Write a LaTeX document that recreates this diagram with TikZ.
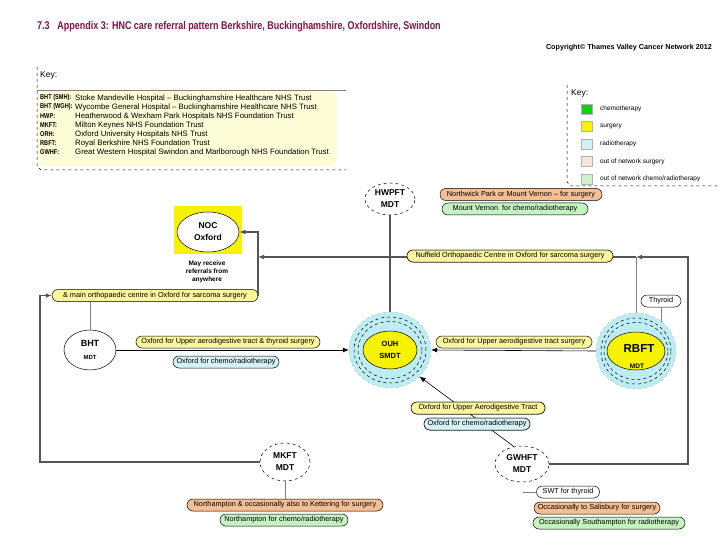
\documentclass[tikz,border=0pt]{standalone}
\usepackage{fontspec}
\setmainfont{Liberation Sans}
\newfontfamily\narrow[FakeStretch=0.8]{Liberation Sans}
\usetikzlibrary{arrows.meta,shapes.geometric}
\definecolor{titlec}{HTML}{7B1448}
\definecolor{keyfill}{HTML}{FCFCD6}
\definecolor{pyellow}{HTML}{FBF59C}
\definecolor{ppeach}{HTML}{F6BE94}
\definecolor{pgreen}{HTML}{C4F2C0}
\definecolor{pblue}{HTML}{D4F1F5}
\definecolor{ring}{HTML}{BDEDF3}
\definecolor{mdtyellow}{HTML}{F7F200}
\definecolor{swgreen}{HTML}{10D010}
\definecolor{swyellow}{HTML}{F8F400}
\definecolor{swblue}{HTML}{D3F0F6}
\definecolor{swpeach}{HTML}{F8E4DA}
\definecolor{swlgreen}{HTML}{CDF3CB}
\definecolor{linegrey}{HTML}{555555}
\begin{document}
\begin{tikzpicture}[x=1pt,y=-1pt,
  pill/.style={draw=black, line width=0.5pt, rounded corners=6pt, minimum height=12pt,
    inner sep=1pt, font=\fontsize{7.3}{8}\selectfont, text height=5pt, text depth=1.4pt},
  thickln/.style={draw=linegrey, line width=1.8pt},
  thinln/.style={draw=black, line width=0.6pt},
  greyln/.style={draw=gray, line width=0.7pt},
  tip/.style={-{Latex[length=6pt,width=5pt]}},
  mdtlbl/.style={font=\bfseries\fontsize{8.5}{12}\selectfont, align=center, inner sep=0pt},
  mdtell/.style={ellipse, draw, fill=white, line width=0.5pt},
  keylab/.style={anchor=west, inner sep=0pt, font=\narrow\bfseries\fontsize{7}{8}\selectfont},
  keytxt/.style={anchor=west, inner sep=0pt, font=\fontsize{7.8}{8}\selectfont},
  swlab/.style={anchor=west, inner sep=0pt, font=\fontsize{6.5}{7}\selectfont},
  swatch/.style={draw=gray!60, line width=0.3pt, minimum width=11pt, minimum height=10pt, inner sep=0pt},
]
\useasboundingbox (0,0) rectangle (720,540);
\fill[white] (0,0) rectangle (720,540);

% title
\node[anchor=west, inner sep=0pt, text=titlec, font=\narrow\bfseries\fontsize{11.2}{13}\selectfont] (title) at (37,27)
  {7.3\hspace{0.7em}Appendix 3: HNC care referral pattern Berkshire, Buckinghamshire, Oxfordshire, Swindon};
\node[anchor=east, inner sep=0pt, font=\bfseries\fontsize{7.2}{8}\selectfont] (copy) at (712,48)
  {Copyright\textcopyright{} Thames Valley Cancer Network 2012};

% key left
\fill[keyfill, rounded corners=8pt] (38,91) rectangle (337,166);
\draw[gray, line width=0.6pt] (37,90) -- (346,90);
\draw[dashed, line width=0.5pt] (37,67) -- (37,166) -- (41,170) -- (346,170);
\node[anchor=west, inner sep=0pt, font=\fontsize{8.5}{9}\selectfont] (key1) at (40,75) {Key:};
\foreach \lab/\txt [count=\i from 0] in {
  {BHT (SMH):}/{Stoke Mandeville Hospital -- Buckinghamshire Healthcare NHS Trust},
  {BHT (WGH):}/{Wycombe General Hospital -- Buckinghamshire Healthcare NHS Trust},
  {HWP:}/{Heatherwood \& Wexham Park Hospitals NHS Foundation Trust},
  {MKFT:}/{Milton Keynes NHS Foundation Trust},
  {ORH:}/{Oxford University Hospitals NHS Trust},
  {RBFT:}/{Royal Berkshire NHS Foundation Trust},
  {GWHF:}/{Great Western Hospital Swindon and Marlborough NHS Foundation Trust}} {
  \node[keylab] (kl\i) at (40,98+9*\i) {\lab};
  \node[keytxt] (kt\i) at (75,98+9*\i) {\txt};
}

% key right
\draw[dashed, line width=0.5pt] (567,85) -- (567,182) -- (571,186) -- (718,186);
\node[anchor=west, inner sep=0pt, font=\fontsize{8.5}{9}\selectfont] (key2) at (571,93) {Key:};
\foreach \col/\txt [count=\i from 0] in {swgreen/{chemotherapy}, swyellow/{surgery}, swblue/{radiotherapy},
  swpeach/{out of network surgery}, swlgreen/{out of network chemo/radiotherapy}} {
  \node[swatch, fill=\col] (sw\i) at (587,109+17.5*\i) {};
  \node[swlab] (swt\i) at (600,109+17.5*\i) {\txt};
}

% HWPFT
\node[mdtell, dashed, minimum width=50pt, minimum height=32pt, mdtlbl] (hw) at (390,199) {HWPFT\\MDT};
\node[pill, fill=ppeach, minimum width=162pt] (hwsurg) at (521,194.5) {Northwick Park or Mount Vernon -- for surgery};
\node[pill, fill=pgreen, minimum width=146pt] (hwchemo) at (515,209) {Mount Vernon\ \ for chemo/radiotherapy};

% NOC
\node[fill=mdtyellow, minimum width=68pt, minimum height=47pt, inner sep=0pt] (nocbox) at (208,230) {};
\node[mdtell, minimum width=62pt, minimum height=40pt, mdtlbl] (noc) at (208,232) {NOC\\Oxford};
\node[font=\bfseries\fontsize{6.5}{8}\selectfont, align=center, inner sep=0pt] (nocnote) at (207,272) {May receive\\referrals from\\anywhere};

% pills on lines (drawn first, redrawn later on top)
\node[pill, fill=pyellow, minimum width=206pt] (nuf) at (510,256) {Nuffield Orthopaedic Centre in Oxford for sarcoma surgery};
\node[pill, fill=pyellow, minimum width=206pt] (lp) at (155,295.5) {\& main orthopaedic centre in Oxford for sarcoma surgery};

% BHT
\node[mdtell, minimum width=52pt, minimum height=40pt, mdtlbl] (bht) at (90,350) {\fontsize{9}{10}\selectfont BHT\\[1pt]{\fontsize{6}{7}\selectfont MDT}};
\node[pill, fill=pyellow, minimum width=184pt] (bsurg) at (228,342) {Oxford for Upper aerodigestive tract \& thyroid surgery};
\node[pill, fill=pblue, minimum width=106pt] (bchemo) at (226,362) {Oxford for chemo/radiotherapy};

% OUH
\node[ellipse, fill=ring, draw=gray!50, dashed, minimum width=82pt, minimum height=76pt] (ouhout) at (390,350) {};
\node[ellipse, draw, dashed, line width=0.5pt, minimum width=72pt, minimum height=66pt] (ouhr1) at (390,350) {};
\node[ellipse, draw, dashed, line width=0.5pt, minimum width=64pt, minimum height=57pt] (ouhr2) at (390,350) {};
\node[ellipse, draw, fill=mdtyellow, line width=0.5pt, minimum width=54pt, minimum height=38pt, mdtlbl, font=\bfseries\fontsize{7.5}{12}\selectfont] (ouh) at (390,350) {OUH\\SMDT};

% RBFT
\node[ellipse, fill=ring, draw=gray!50, dashed, minimum width=80pt, minimum height=76pt] (rbout) at (636,351) {};
\node[ellipse, draw, dashed, line width=0.5pt, minimum width=70pt, minimum height=66pt] (rbr1) at (636,351) {};
\node[ellipse, draw, dashed, line width=0.5pt, minimum width=64pt, minimum height=57pt] (rbr2) at (636,351) {};
\node[ellipse, draw, fill=mdtyellow, line width=0.5pt, minimum width=58pt, minimum height=38pt] (rb) at (636,351) {};
\node[inner sep=0pt, font=\bfseries\fontsize{11.5}{12}\selectfont] (rbt) at (639,349) {RBFT};
\node[inner sep=0pt, font=\bfseries\fontsize{6.5}{7}\selectfont] (rbm) at (637,366) {MDT};
\node[pill, fill=pyellow, minimum width=156pt] (rsurg) at (514,342) {Oxford for Upper aerodigestive tract surgery};
\node[pill, fill=white, minimum width=40pt] (thy) at (661,301) {Thyroid};

% GWHFT pills on diagonal
\node[pill, fill=pyellow, minimum width=134pt] (gsurg) at (478,408) {Oxford for Upper Aerodigestive Tract};
\node[pill, fill=pblue, minimum width=106pt] (gchemo) at (477,424) {Oxford for chemo/radiotherapy};

% MKFT
\node[mdtell, dashed, minimum width=50pt, minimum height=38pt, mdtlbl] (mk) at (285,462) {MKFT\\MDT};
\node[pill, fill=ppeach, minimum width=196pt] (mksurg) at (285,505) {Northampton \& occasionally also to Kettering for surgery};
\node[pill, fill=pgreen, minimum width=128pt] (mkchemo) at (284,520) {Northampton for chemo/radiotherapy};

% GWHFT
\node[mdtell, dashed, minimum width=54pt, minimum height=36pt, mdtlbl] (gw) at (522,464) {GWHFT\\MDT};
\node[pill, fill=white, minimum width=63pt] (swt) at (568,492) {SWT for thyroid};
\node[pill, fill=ppeach, minimum width=126pt] (sal) at (597,508) {Occasionally to Salisbury for surgery};
\node[pill, fill=pgreen, minimum width=152pt] (sou) at (609,523) {Occasionally Southampton for radiotherapy};

% junction coordinates
\coordinate (nocj) at (258,257);
\coordinate (rbj) at (636,257);
\coordinate (rc) at (688,257);
\coordinate (lc) at (40,462);
\coordinate (thyend) at (661,322);
\coordinate (swtj) at (523,492);

% connectors
\draw[thickln, tip] (lp.east) |- (noc.east);
\draw[thickln, tip] (gw.east) -| (rc) -- (rbj);
\draw[thickln, tip] (rbj) -- (nocj);
\draw[greyln] (rbout.north) -- (rbj);
\draw[greyln] (thy.south) -- (thyend);
\draw[thickln] (hw.south) -- (ouhout.north);
\draw[thickln, tip] (mk.west) -- (lc) |- (lp.west);
\draw[greyln] (bht.north) -- (bht.north |- lp.south);
\draw[thinln, tip] (bht.east) -- (ouhout.west);
\draw[thinln, tip] (rbout.west) -- (ouhout.east);
\draw[thinln, tip] (gw.115) -- (ouhout.-42);
\draw[greyln] (mk.south) -- (mksurg.north);
\draw[greyln] (swtj) -- (swt.west);

% redraw pills that sit on lines
\node[pill, fill=pyellow, minimum width=206pt] at (nuf) {Nuffield Orthopaedic Centre in Oxford for sarcoma surgery};
\node[pill, fill=pyellow, minimum width=134pt] at (gsurg) {Oxford for Upper Aerodigestive Tract};
\node[pill, fill=pblue, minimum width=106pt] at (gchemo) {Oxford for chemo/radiotherapy};
\end{tikzpicture}
\end{document}
